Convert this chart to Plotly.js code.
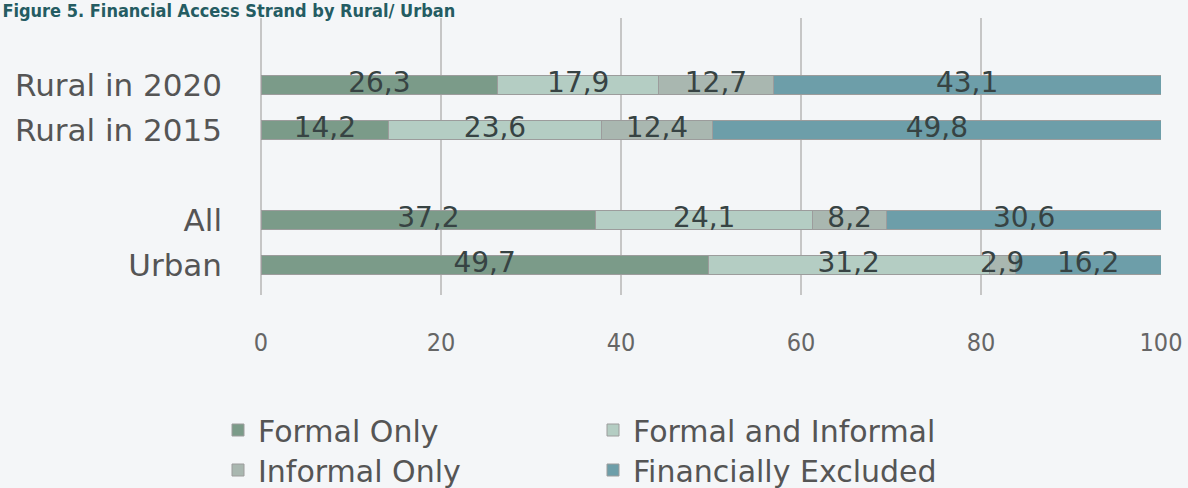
<!DOCTYPE html>
<html>
<head>
<meta charset="utf-8">
<script src="https://cdn.plot.ly/plotly-3.0.1.min.js"></script>
<style>html,body{margin:0;padding:0;background:#f4f6f8;}</style>
</head>
<body>
<div id="chart" style="width:1188px;height:488px;"></div>
<script>
// Groups from bottom to top (blank spacer between All and Rural in 2015)
var groups = ["Urban", "All", " ", "Rural in 2015", "Rural in 2020"];
var formalOnly = [49.7, 37.2, null, 14.2, 26.3];
var formalAndInformal = [31.2, 24.1, null, 23.6, 17.9];
var informalOnly = [2.9, 8.2, null, 12.4, 12.7];
var financiallyExcluded = [16.2, 30.6, null, 49.8, 43.1];
var seriesNames = ["Formal Only", "Formal and Informal", "Informal Only", "Financially Excluded"];
var xTicks = [0, 20, 40, 60, 80, 100];

var colors = ["#7b9b89", "#b4cdc3", "#a9b7b0", "#6d9ea9"];
var seriesData = [formalOnly, formalAndInformal, informalOnly, financiallyExcluded];
var legendIds = ["legend", "legend", "legend2", "legend2"];
var FONT = "DejaVu Sans Condensed, Liberation Sans Narrow, sans-serif";
var WFONT = "DejaVu Sans, Verdana, sans-serif";

var traces = seriesData.map(function (vals, i) {
  return {
    type: "bar",
    orientation: "h",
    name: seriesNames[i],
    legend: legendIds[i],
    y: groups,
    x: vals,
    width: 0.42,
    marker: {color: colors[i], line: {color: "#9c9c9c", width: 1}},
    hoverinfo: "x+name"
  };
});

// Value labels: centred on each stacked segment, drawn on top of all bars
var cum = groups.map(function () { return 0; });
seriesData.forEach(function (vals, i) {
  var mids = vals.map(function (v, k) {
    if (v === null) return null;
    var m = cum[k] + v / 2;
    cum[k] += v;
    return m;
  });
  traces.push({
    type: "scatter",
    mode: "text",
    x: mids,
    y: groups,
    customdata: vals,
    texttemplate: "%{customdata:.1f}",
    textposition: "middle center",
    textfont: {family: WFONT, size: 28, color: "#374343"},
    showlegend: false,
    hoverinfo: "skip",
    cliponaxis: false
  });
});

var layout = {
  width: 1188,
  height: 488,
  paper_bgcolor: "#f4f6f8",
  plot_bgcolor: "#f4f6f8",
  separators: ",.",
  barmode: "stack",
  margin: {l: 261, r: 27, t: 18, b: 193},
  font: {family: FONT, color: "#555555"},
  title: {
    text: "<b>Figure 5. Financial Access Strand by Rural/ Urban</b>",
    font: {family: "DejaVu Sans Condensed, sans-serif", size: 18, color: "#245c62"},
    x: 0.002, xanchor: "left", xref: "container",
    y: 1 - 4 / 488, yanchor: "top", yref: "container",
    pad: {t: 0, b: 0, l: 0, r: 0}
  },
  xaxis: {
    range: [0, 100],
    tickvals: xTicks,
    showgrid: true,
    gridcolor: "#c6c6c6",
    gridwidth: 2,
    zeroline: true,
    zerolinecolor: "#c6c6c6",
    zerolinewidth: 2,
    showline: false,
    ticks: "",
    automargin: false,
    ticklabelstandoff: 30,
    tickfont: {family: FONT, size: 25, color: "#666666"},
    fixedrange: true
  },
  yaxis: {
    type: "category",
    categoryorder: "array",
    categoryarray: groups,
    range: [-0.667, 5.49],
    showgrid: false,
    zeroline: false,
    ticks: "",
    automargin: false,
    ticklabelstandoff: 38,
    tickfont: {family: WFONT, size: 31, color: "#555555"},
    fixedrange: true
  },
  legend: {
    orientation: "h",
    xref: "container", yref: "container",
    x: 218 / 1188, xanchor: "left",
    y: 1 - 430 / 488, yanchor: "middle",
    entrywidth: 330,
    traceorder: "normal",
    font: {family: WFONT, size: 30, color: "#555555"},
    bgcolor: "rgba(0,0,0,0)"
  },
  legend2: {
    orientation: "h",
    xref: "container", yref: "container",
    x: 218 / 1188, xanchor: "left",
    y: 1 - 470 / 488, yanchor: "middle",
    entrywidth: 330,
    traceorder: "normal",
    font: {family: WFONT, size: 30, color: "#555555"},
    bgcolor: "rgba(0,0,0,0)"
  },
  showlegend: true
};

Plotly.newPlot("chart", traces, layout, {displayModeBar: false, staticPlot: true});
</script>
</body>
</html>
